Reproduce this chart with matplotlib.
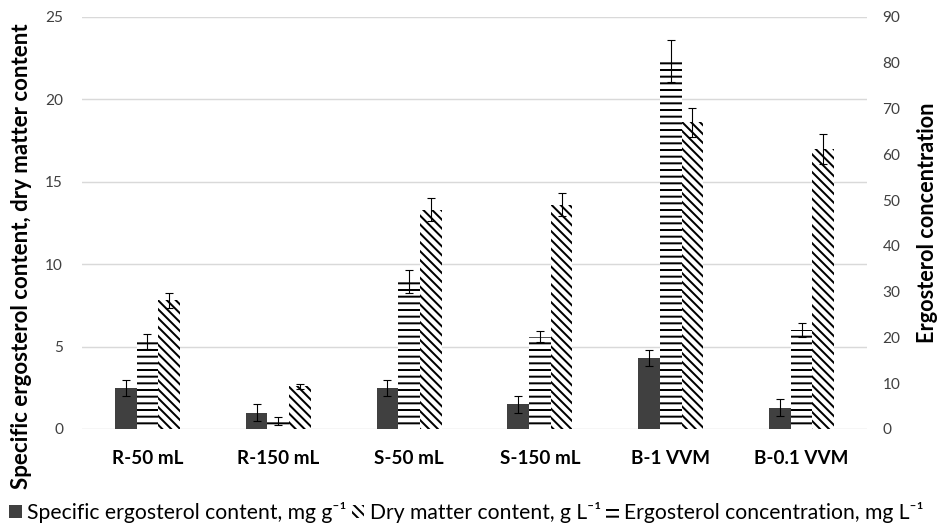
import matplotlib
matplotlib.use('Agg')
import matplotlib.pyplot as plt
from matplotlib.patches import Patch
import numpy as np

categories = ['R-50 mL', 'R-150 mL', 'S-50 mL', 'S-150 mL', 'B-1 VVM', 'B-0.1 VVM']

# left axis series
specific = [2.5, 1.0, 2.5, 1.5, 4.3, 1.3]
specific_err = [0.5, 0.5, 0.5, 0.5, 0.5, 0.5]
dry_matter = [7.8, 2.6, 13.3, 13.6, 18.6, 17.0]
dry_matter_err = [0.45, 0.15, 0.7, 0.7, 0.9, 0.9]
# right axis series
ergosterol = [19.1, 1.8, 32.2, 20.2, 80.3, 21.6]
ergosterol_err = [1.6, 0.9, 2.6, 1.1, 4.6, 1.5]

left_ticks = [0, 5, 10, 15, 20, 25]
right_ticks = [0, 10, 20, 30, 40, 50, 60, 70, 80, 90]

plt.rcParams['font.family'] = ['Lato', 'DejaVu Sans']
plt.rcParams['hatch.linewidth'] = 1.8

W, H, DPI = 939, 526, 80
fig = plt.figure(figsize=(W/DPI, H/DPI), dpi=DPI)
ax = fig.add_axes([82/W, 97/H, 785/W, 412/H])
ax2 = ax.twinx()

x = np.arange(len(categories))
w = 0.166
eb = dict(fmt='none', ecolor='black', elinewidth=1, capsize=4, capthick=1, zorder=4)

ax.bar(x - w, specific, w, color='#404040', zorder=2)
ax.errorbar(x - w, specific, yerr=specific_err, **eb)
ax.bar(x + w, dry_matter, w, color='white', edgecolor='black', lw=0, hatch='\\\\\\', zorder=2)
ax.errorbar(x + w, dry_matter, yerr=dry_matter_err, **eb)

ax2.bar(x, ergosterol, w, color='white', edgecolor='black', lw=0, hatch='--', zorder=2)
ax2.errorbar(x, ergosterol, yerr=ergosterol_err, **eb)

ax.set_xlim(-0.5, len(categories) - 0.5)
ax.set_ylim(0, 25)
ax2.set_ylim(0, 90)
ax.set_yticks(left_ticks)
ax2.set_yticks(right_ticks)
ax.set_xticks(x)
ax.set_xticklabels(categories, fontsize=17, fontweight='bold')

ax.yaxis.grid(True, color='#d9d9d9', lw=1.3)
ax.set_axisbelow(True)
for a in (ax, ax2):
    for s in a.spines.values():
        s.set_visible(False)
ax.tick_params(axis='y', length=0, pad=17, labelsize=13.8, labelcolor='#404040')
ax2.tick_params(axis='y', length=0, pad=14, labelsize=13.8, labelcolor='#404040')
ax.tick_params(axis='x', length=0, pad=19)

fig.text(22/W, 1 - 256/H, 'Specific ergosterol content, dry matter content',
         rotation=90, ha='center', va='center', fontsize=20, fontweight='bold')
fig.text(927/W, 1 - 223/H, 'Ergosterol concentration',
         rotation=90, ha='center', va='center', fontsize=19.5, fontweight='bold')

handles = [
    Patch(facecolor='#404040', label='Specific ergosterol content, mg g⁻¹'),
    Patch(facecolor='white', edgecolor='black', lw=0, hatch='\\\\\\', label='Dry matter content, g L⁻¹'),
    Patch(facecolor='white', edgecolor='black', lw=0, hatch='--', label='Ergosterol concentration, mg L⁻¹'),
]
fig.legend(handles=handles, loc='lower left', bbox_to_anchor=(9/W, 3/H), ncol=3,
           frameon=False, fontsize=19, handlelength=0.6, handleheight=0.6,
           handletextpad=0.25, columnspacing=0.25, borderpad=0, borderaxespad=0)

fig.savefig('out.png', dpi=DPI)
